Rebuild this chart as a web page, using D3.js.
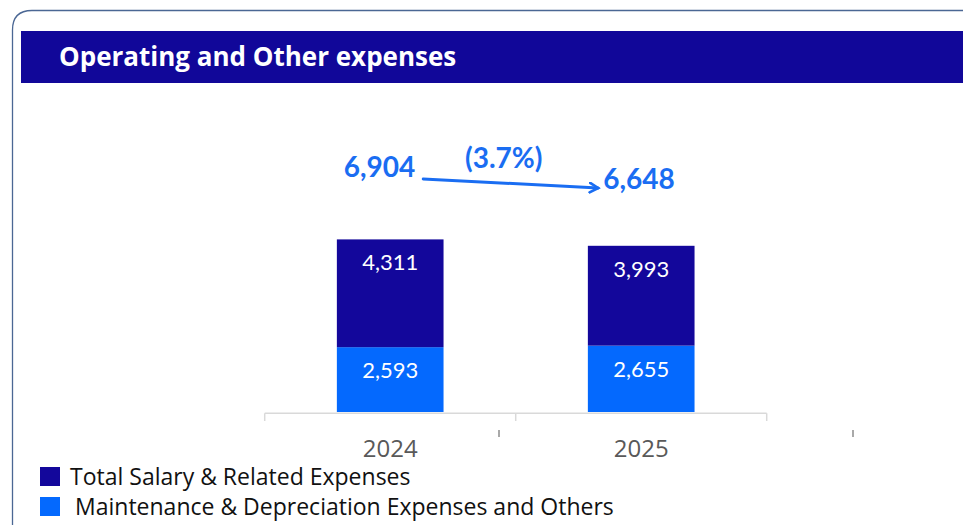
<!DOCTYPE html>
<html>
<head>
<meta charset="utf-8">
<script src="https://cdn.jsdelivr.net/npm/d3@7"></script>
<style>
  html, body { margin: 0; padding: 0; background: #ffffff; }
  svg { display: block; }
</style>
</head>
<body>
<svg id="chart" width="963" height="525"></svg>
<script>
// Operating and other expenses, by year (stacked)
const years = ["2024", "2025"];
const salaryExpenses = [4311, 3993];
const maintenanceExpenses = [2593, 2655];
const totals = [6904, 6648];
const changeLabel = "(3.7%)";
const seriesNames = ["Total Salary & Related Expenses", "Maintenance & Depreciation Expenses and Others"];
const titleText = "Operating and Other expenses";

const darkBlue = "#13079b";
const brightBlue = "#0469fe";
const accentBlue = "#1a6df2";
const fmt = d3.format(",");

const svg = d3.select("#chart");

// card outline with rounded top-left corner
svg.append("path")
  .attr("d", "M12.5,530 L12.5,30 Q12.5,10.5 32,10.5 L970,10.5")
  .attr("fill", "none")
  .attr("stroke", "#4b6794")
  .attr("stroke-width", 1.3);

// title banner
svg.append("rect")
  .attr("x", 21).attr("y", 31)
  .attr("width", 950).attr("height", 52)
  .attr("fill", "#110799");
svg.append("text")
  .attr("x", 59).attr("y", 66)
  .attr("fill", "#ffffff")
  .attr("font-family", "'Open Sans', sans-serif")
  .attr("font-weight", 700)
  .attr("font-size", 26)
  .text(titleText);

// scales
const x = d3.scaleBand().domain(years).range([264.7, 766.7]).padding(0);
const y = d3.scaleLinear().domain([0, 8000]).range([412, 212]);
const barW = x.bandwidth() * 0.425;

const rows = years.map((yr, i) => ({
  year: yr,
  maintenance: maintenanceExpenses[i],
  salary: salaryExpenses[i],
  total: totals[i]
}));
const stack = d3.stack().keys(["maintenance", "salary"]);
const layers = stack(rows);
const colors = { maintenance: brightBlue, salary: darkBlue };

// category axis: baseline with ticks on category boundaries
const axisG = svg.append("g");
axisG.append("line")
  .attr("x1", x.range()[0]).attr("x2", x.range()[1])
  .attr("y1", y(0) + 1.3).attr("y2", y(0) + 1.3)
  .attr("stroke", "#d9d9d9").attr("stroke-width", 1.5);
const boundaries = years.map(d => x(d)).concat([x.range()[1]]);
axisG.selectAll("line.tick")
  .data(boundaries)
  .join("line")
  .attr("class", "tick")
  .attr("x1", d => d).attr("x2", d => d)
  .attr("y1", y(0) + 1.3).attr("y2", y(0) + 9)
  .attr("stroke", "#d9d9d9").attr("stroke-width", 1.5);
axisG.selectAll("text.cat")
  .data(years)
  .join("text")
  .attr("class", "cat")
  .attr("x", d => x(d) + x.bandwidth() / 2)
  .attr("y", 457)
  .attr("text-anchor", "middle")
  .attr("fill", "#595959")
  .attr("font-family", "'Open Sans', sans-serif")
  .attr("font-size", 24)
  .text(d => d);

// small secondary tick marks below the axis
[499, 853].forEach(px => {
  axisG.append("line")
    .attr("x1", px).attr("x2", px)
    .attr("y1", 430).attr("y2", 437)
    .attr("stroke", "#8c8c8c").attr("stroke-width", 1.5);
});

// stacked bars
const barsG = svg.append("g");
layers.forEach(layer => {
  const g = barsG.append("g");
  g.selectAll("rect")
    .data(layer)
    .join("rect")
    .attr("x", d => x(d.data.year) + (x.bandwidth() - barW) / 2)
    .attr("width", barW)
    .attr("y", d => y(d[1]))
    .attr("height", d => y(d[0]) - y(d[1]))
    .attr("fill", colors[layer.key]);
  g.selectAll("text")
    .data(layer)
    .join("text")
    .attr("x", d => x(d.data.year) + x.bandwidth() / 2)
    .attr("y", d => y(d[1]) + 31)
    .attr("text-anchor", "middle")
    .attr("fill", "#ffffff")
    .attr("font-family", "Lato, sans-serif")
    .attr("font-size", 22)
    .text(d => fmt(d.data[layer.key]));
});

// total change annotation
const defs = svg.append("defs");
defs.append("marker")
  .attr("id", "arrowHead")
  .attr("viewBox", "0 0 10 10")
  .attr("refX", 8).attr("refY", 5)
  .attr("markerWidth", 4).attr("markerHeight", 4)
  .attr("orient", "auto")
  .append("path")
  .attr("d", "M1,1 L8,5 L1,9")
  .attr("fill", "none")
  .attr("stroke", accentBlue)
  .attr("stroke-width", 2.2)
  .attr("stroke-linecap", "round");

const c0 = x(years[0]) + x.bandwidth() / 2;
const c1 = x(years[1]) + x.bandwidth() / 2;
const annG = svg.append("g")
  .attr("fill", accentBlue)
  .attr("font-family", "Lato, sans-serif")
  .attr("font-weight", 700)
  .attr("font-size", 28);

annG.append("text")
  .attr("x", c0 + 25).attr("y", 177)
  .attr("text-anchor", "end")
  .text(fmt(totals[0]));
annG.append("text")
  .attr("x", c1 - 38).attr("y", 189)
  .attr("text-anchor", "start")
  .text(fmt(totals[1]));
annG.append("text")
  .attr("x", (c0 + c1) / 2 - 12).attr("y", 168)
  .attr("text-anchor", "middle")
  .text(changeLabel);

svg.append("line")
  .attr("x1", c0 + 33).attr("y1", 179)
  .attr("x2", c1 - 43).attr("y2", 188)
  .attr("stroke", accentBlue)
  .attr("stroke-width", 3)
  .attr("stroke-linecap", "round")
  .attr("marker-end", "url(#arrowHead)");

// legend
const legendG = svg.append("g");
const legendItems = [
  { name: seriesNames[0], color: darkBlue, y: 467, tx: 70 },
  { name: seriesNames[1], color: brightBlue, y: 497, tx: 75 }
];
legendG.selectAll("rect")
  .data(legendItems)
  .join("rect")
  .attr("x", 40).attr("y", d => d.y)
  .attr("width", 20).attr("height", 19)
  .attr("fill", d => d.color);
legendG.selectAll("text")
  .data(legendItems)
  .join("text")
  .attr("x", d => d.tx).attr("y", d => d.y + 18)
  .attr("fill", "#111111")
  .attr("font-family", "'Open Sans', sans-serif")
  .attr("font-size", 23)
  .text(d => d.name);
</script>
</body>
</html>
